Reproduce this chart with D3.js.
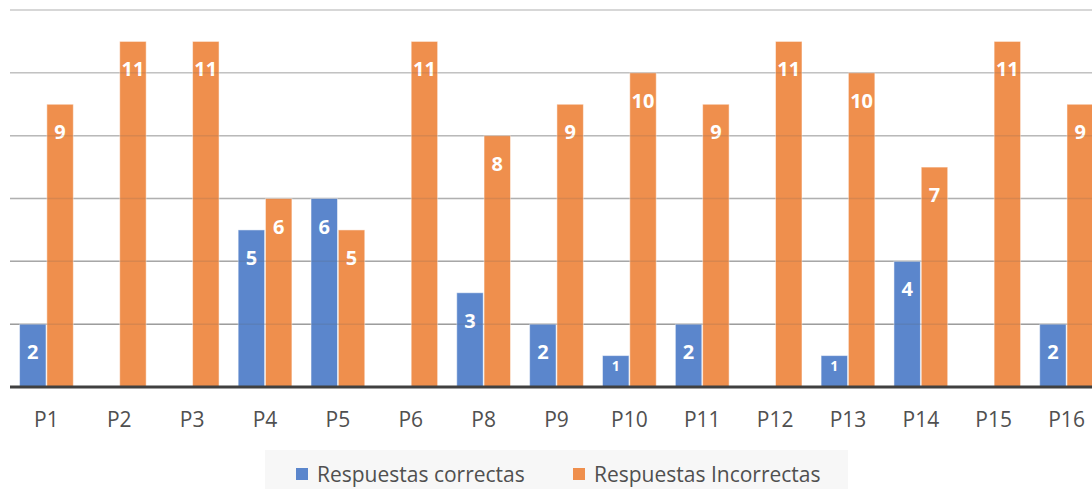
<html>
<head>
  <meta charset="utf-8">
  <script src="https://d3js.org/d3.v7.min.js"></script>
  <style>
    body { margin: 0; background: #fff; }
    svg { display: block; font-family: Lato, "Open Sans", sans-serif; }
  </style>
</head>
<body>
  <div id="chart"></div>
  <script>
    // data
    var categories = ['P1', 'P2', 'P3', 'P4', 'P5', 'P6', 'P8', 'P9', 'P10', 'P11', 'P12', 'P13', 'P14', 'P15', 'P16'];
    var correctas = [2, 0, 0, 5, 6, 0, 3, 2, 1, 2, 0, 1, 4, 0, 2];
    var incorrectas = [9, 11, 11, 6, 5, 11, 8, 9, 10, 9, 11, 10, 7, 11, 9];
    var seriesNames = ['Respuestas correctas', 'Respuestas Incorrectas'];
    var yTicks = [2, 4, 6, 8, 10, 12];

    var colors = ['#5b86cc', '#ef8f4d'];
    var W = 1092, H = 489;
    var plot = {left: 10, right: 1103, top: 10, bottom: 387};

    var x0 = d3.scaleBand().domain(categories).range([plot.left, plot.right]).padding(0);
    var x1 = d3.scaleBand().domain([0, 1]).range([0, x0.bandwidth()])
               .paddingInner(0.03).paddingOuter(0.35);
    var y = d3.scaleLinear().domain([0, 12]).range([plot.bottom, plot.top]);
    var gridColor = d3.scaleLinear().domain([2, 12]).range(['#aaaaaa', '#e0e0e0']);

    var svg = d3.select('#chart').append('svg')
                .attr('width', W)
                .attr('height', H);

    // gridlines
    svg.append('g').selectAll('line')
       .data(yTicks).enter().append('line')
         .attr('x1', plot.left).attr('x2', W)
         .attr('y1', function(d) { return y(d); })
         .attr('y2', function(d) { return y(d); })
         .style('stroke', function(d) { return gridColor(d); })
         .style('stroke-width', 1.5);

    var rows = categories.map(function(c, i) {
      return {cat: c, vals: [correctas[i], incorrectas[i]]};
    });

    var groups = svg.append('g').selectAll('g')
                    .data(rows).enter().append('g')
                      .attr('transform', function(d) { return 'translate(' + x0(d.cat) + ',0)'; });

    groups.selectAll('rect')
          .data(function(d) { return d.vals.map(function(v, k) { return {k: k, v: v}; }).filter(function(e) { return e.v > 0; }); })
          .enter().append('rect')
            .attr('x', function(d) { return x1(d.k); })
            .attr('y', function(d) { return y(d.v); })
            .attr('width', x1.bandwidth())
            .attr('height', function(d) { return y(0) - y(d.v); })
            .style('fill', function(d) { return colors[d.k]; })
            .style('stroke', '#ffffff')
            .style('stroke-opacity', 0.5)
            .style('stroke-width', 1);

    // faint gridlines showing through the bars
    svg.append('g').selectAll('line')
       .data(yTicks).enter().append('line')
         .attr('x1', plot.left).attr('x2', W)
         .attr('y1', function(d) { return y(d); })
         .attr('y2', function(d) { return y(d); })
         .style('stroke', '#555')
         .style('stroke-opacity', 0.15)
         .style('stroke-width', 1.5);

    // value labels
    groups.selectAll('text')
          .data(function(d) { return d.vals.map(function(v, k) { return {k: k, v: v}; }).filter(function(e) { return e.v > 0; }); })
          .enter().append('text')
            .attr('x', function(d) { return x1(d.k) + x1.bandwidth() / 2; })
            .attr('y', function(d) { return y(d.v) + (d.v < 2 ? 15 : 35); })
            .attr('text-anchor', 'middle')
            .style('fill', '#fff')
            .style('font-family', '"Open Sans", sans-serif')
            .style('font-weight', 'bold')
            .style('font-size', function(d) { return d.v < 2 ? '14px' : '20px'; })
            .text(function(d) { return d.v; });

    // baseline
    svg.append('line')
       .attr('x1', plot.left).attr('x2', W)
       .attr('y1', y(0)).attr('y2', y(0))
       .style('stroke', '#404040')
       .style('stroke-width', 3);

    // category labels
    var x_axis = d3.axisBottom(x0).tickSize(0).tickPadding(25);
    var ax = svg.append('g')
                .attr('transform', 'translate(0,' + y(0) + ')')
                .call(x_axis);
    ax.select('.domain').remove();
    ax.selectAll('text')
      .style('font-family', '"Open Sans", sans-serif')
      .style('font-size', '21px')
      .style('fill', '#505050');

    // legend
    var leg = svg.append('g');
    leg.append('rect')
       .attr('x', 265).attr('y', 450)
       .attr('width', 583).attr('height', 40)
       .style('fill', '#f7f7f7');
    var legX = [296, 573];
    seriesNames.forEach(function(name, k) {
      leg.append('rect')
         .attr('x', legX[k]).attr('y', 468)
         .attr('width', 12).attr('height', 12)
         .style('fill', colors[k]);
      leg.append('text')
         .attr('x', legX[k] + 21).attr('y', 482)
         .style('font-family', '"Open Sans", sans-serif')
         .style('font-size', '21px')
         .style('fill', '#505050')
         .text(name);
    });
  </script>
</body>
</html>
